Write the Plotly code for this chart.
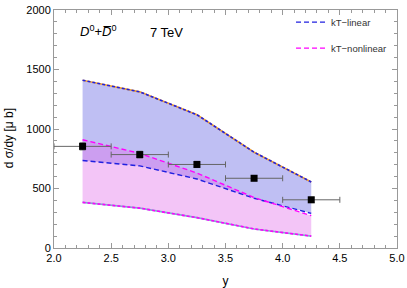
import plotly.graph_objects as go

y_pts = [2.25, 2.75, 3.25, 3.75, 4.25]
lin_upper = [1410, 1312, 1120, 805, 555]
lin_lower = [735, 690, 580, 418, 291]
nl_upper = [910, 795, 630, 424, 272]
nl_lower = [383, 335, 255, 160, 100]

data_y = [2.25, 2.75, 3.25, 3.75, 4.25]
data_val = [854, 785, 702, 586, 405]
data_xerr = [0.25, 0.25, 0.25, 0.25, 0.25]
data_yerr = [30, 28, 26, 20, 22]

FONT = "Liberation Sans, Arial"

fig = go.Figure()

# linear band
fig.add_trace(go.Scatter(x=y_pts, y=lin_lower, mode="lines",
                         line=dict(color="rgba(0,0,0,0)", width=0), showlegend=False, hoverinfo="skip"))
fig.add_trace(go.Scatter(x=y_pts, y=lin_upper, mode="lines", fill="tonexty",
                         fillcolor="rgba(95,95,225,0.4)",
                         line=dict(color="rgba(0,0,0,0)", width=0), showlegend=False, hoverinfo="skip"))
# nonlinear band
fig.add_trace(go.Scatter(x=y_pts, y=nl_lower, mode="lines",
                         line=dict(color="rgba(0,0,0,0)", width=0), showlegend=False, hoverinfo="skip"))
fig.add_trace(go.Scatter(x=y_pts, y=nl_upper, mode="lines", fill="tonexty",
                         fillcolor="rgba(225,110,235,0.4)",
                         line=dict(color="rgba(0,0,0,0)", width=0), showlegend=False, hoverinfo="skip"))

# boundary lines
fig.add_trace(go.Scatter(x=y_pts, y=lin_upper, mode="lines",
                         line=dict(color="#f0a030", width=1.6), showlegend=False, hoverinfo="skip"))
fig.add_trace(go.Scatter(x=y_pts, y=lin_upper, mode="lines",
                         line=dict(color="#2020e0", width=1.6, dash="3px,2px"), showlegend=False))
fig.add_trace(go.Scatter(x=y_pts, y=nl_lower, mode="lines",
                         line=dict(color="#80b0d0", width=1.6), showlegend=False, hoverinfo="skip"))
fig.add_trace(go.Scatter(x=y_pts, y=nl_lower, mode="lines",
                         line=dict(color="#ff00ff", width=1.6, dash="3px,2px"), showlegend=False))
fig.add_trace(go.Scatter(x=y_pts, y=lin_lower, mode="lines", name="kT\u2212linear",
                         legendgroup="a",
                         line=dict(color="#2020e0", width=1.4, dash="5px,3px")))
fig.add_trace(go.Scatter(x=y_pts, y=nl_upper, mode="lines", name="kT\u2212nonlinear",
                         legendgroup="b",
                         line=dict(color="#ff00ff", width=1.4, dash="5px,3px")))

# data
fig.add_trace(go.Scatter(x=data_y, y=data_val, mode="markers", showlegend=False,
                         marker=dict(symbol="square", size=7, color="black"),
                         error_x=dict(type="data", array=data_xerr, color="#666666", thickness=1, width=3),
                         error_y=dict(type="data", array=data_yerr, color="#666666", thickness=1, width=3)))

axis_common = dict(showline=True, linecolor="#999999", linewidth=1, mirror="allticks",
                   ticks="inside", tickcolor="#999999", ticklen=5, showgrid=False, zeroline=False,
                   automargin=False,
                   tickfont=dict(family=FONT, size=11, color="black"))

fig.update_xaxes(range=[2.0, 5.0], tickvals=[2.0, 2.5, 3.0, 3.5, 4.0, 4.5, 5.0],
                 ticktext=["2.0", "2.5", "3.0", "3.5", "4.0", "4.5", "5.0"],
                 minor=dict(dtick=0.1, ticks="inside", ticklen=3, tickcolor="#999999"),
                 title=dict(text="y", font=dict(family=FONT, size=12, color="black"), standoff=14),
                 **axis_common)
fig.update_yaxes(range=[0, 2000], tickvals=[0, 500, 1000, 1500, 2000],
                 minor=dict(dtick=100, ticks="inside", ticklen=3, tickcolor="#999999"),
                 **axis_common)

fig.add_annotation(x=-0.13, y=0.4625, xref="paper", yref="paper", xanchor="center", yanchor="middle",
                   text="d \u03c3/dy [\u03bc b]", textangle=-90, showarrow=False,
                   font=dict(family=FONT, size=12, color="black"))

fig.add_annotation(x=0.07, y=0.91, xref="paper", yref="paper", xanchor="left", yanchor="middle",
                   text="<i>D</i><sup>0</sup>+<i>D\u0305</i><sup>0</sup>", showarrow=False,
                   font=dict(family=FONT, size=13, color="black"))
fig.add_annotation(x=0.275, y=0.905, xref="paper", yref="paper", xanchor="left", yanchor="middle",
                   text="7 TeV", showarrow=False,
                   font=dict(family=FONT, size=13, color="black"))

fig.update_layout(width=407, height=288, margin=dict(l=54, r=10, t=8, b=40),
                  plot_bgcolor="white", paper_bgcolor="white",
                  legend=dict(x=0.691, y=1.01, xanchor="left", yanchor="top",
                              bgcolor="rgba(0,0,0,0)", traceorder="grouped", tracegroupgap=7,
                              font=dict(family=FONT, size=9.5, color="#333333")))

fig.write_html("out.html", config={"displayModeBar": False},
               post_script="document.body.style.margin='0';")
